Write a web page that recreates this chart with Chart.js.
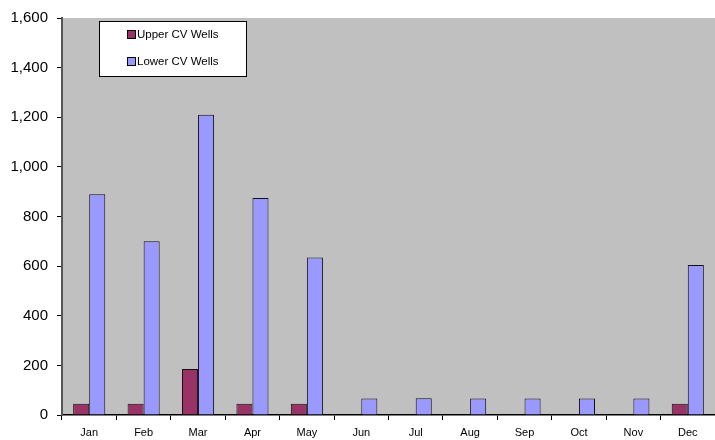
<!DOCTYPE html>
<html>
<head>
<meta charset="utf-8">
<script src="https://cdn.jsdelivr.net/npm/chart.js@4.4.1/dist/chart.umd.min.js"></script>
<style>
  html, body { margin: 0; padding: 0; background: #fff; }
  #wrap { position: relative; width: 715px; height: 440px; }
</style>
</head>
<body>
<div id="wrap"><canvas id="chart" width="715" height="440"></canvas></div>
<script>
// monthly values
const months = ['Jan', 'Feb', 'Mar', 'Apr', 'May', 'Jun', 'Jul', 'Aug', 'Sep', 'Oct', 'Nov', 'Dec'];
const upperWells = [45, 45, 185, 45, 45, 0, 0, 0, 0, 0, 0, 45];
const lowerWells = [890, 700, 1210, 875, 635, 66, 68, 66, 66, 66, 66, 605];
const yTicks = [0, 200, 400, 600, 800, 1000, 1200, 1400, 1600];

// gray plot area
const plotBg = {
    id: 'plotBg',
    beforeDraw(chart) {
        const a = chart.chartArea;
        const ctx = chart.ctx;
        ctx.save();
        ctx.fillStyle = '#C0C0C0';
        ctx.fillRect(a.left, a.top, a.right - a.left, a.bottom - a.top);
        ctx.restore();
    }
};

// boxed legend inside the plot, like the excel one
const boxLegend = {
    id: 'boxLegend',
    afterDraw(chart) {
        const ctx = chart.ctx;
        const x = 99, y = 21, w = 147, h = 55;
        ctx.save();
        ctx.fillStyle = '#fff';
        ctx.fillRect(x, y, w, h);
        ctx.strokeStyle = '#000';
        ctx.lineWidth = 1;
        ctx.strokeRect(x + 0.5, y + 0.5, w, h);
        ctx.font = '11.5px "Liberation Sans", Arial, sans-serif';
        ctx.textBaseline = 'middle';
        chart.data.datasets.forEach((ds, i) => {
            let cy = y + 14 + i * 27;
            ctx.fillStyle = ds.backgroundColor;
            ctx.fillRect(x + 29, cy - 4, 7, 7);
            ctx.strokeStyle = '#000';
            ctx.strokeRect(x + 28.5, cy - 4.5, 8, 8);
            ctx.fillStyle = '#000';
            ctx.fillText(ds.label, x + 38, cy);
        });
        ctx.restore();
    }
};

let data = {
    labels: months,
    datasets: [
        {
            label: 'Upper CV Wells',
            data: upperWells,
            backgroundColor: '#993366',
            borderColor: '#111',
            borderWidth: 1
        },
        {
            label: 'Lower CV Wells',
            data: lowerWells,
            backgroundColor: '#9999FF',
            borderColor: '#111',
            borderWidth: 1
        }
    ]
};

let options = {
    responsive: false,
    animation: false,
    layout: { padding: { top: 12, right: 0, left: 0, bottom: 0 } },
    datasets: { bar: { categoryPercentage: 0.59, barPercentage: 1.0 } },
    plugins: {
        legend: { display: false },
        tooltip: { enabled: false }
    },
    scales: {
        x: {
            grid: { display: true, drawOnChartArea: false, drawTicks: true, tickLength: 5, tickColor: '#000', offset: true },
            border: { display: true, color: '#000', width: 1.5 },
            ticks: { color: '#000', font: { family: '"Liberation Sans", Arial', size: 11 }, padding: 6, maxRotation: 0 },
            afterFit(scale) { scale.height = 25; }
        },
        y: {
            min: 0,
            max: 1600,
            afterBuildTicks(scale) { scale.ticks = yTicks.map(v => ({ value: v })); },
            grid: { display: true, drawOnChartArea: false, drawTicks: true, tickLength: 5, tickColor: '#000' },
            border: { display: true, color: '#555', width: 2 },
            ticks: {
                color: '#000',
                font: { family: '"Liberation Sans", Arial', size: 15 },
                padding: 9,
                callback: v => v.toLocaleString('en-US')
            },
            afterFit(scale) { scale.width = 62; }
        }
    }
};

new Chart(document.getElementById('chart'), {
    type: 'bar',
    data: data,
    options: options,
    plugins: [plotBg, boxLegend]
});
</script>
</body>
</html>
